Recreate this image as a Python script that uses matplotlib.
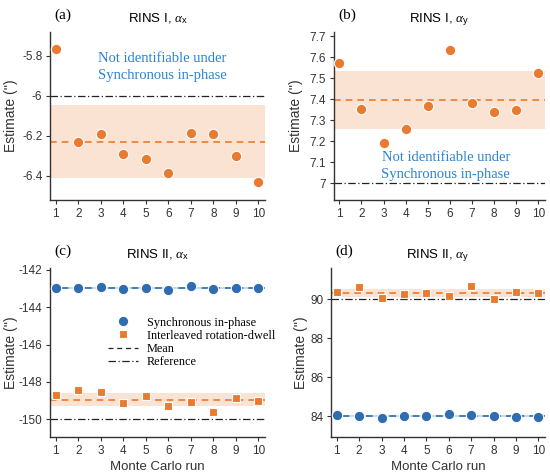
import numpy as np
import matplotlib
matplotlib.use("Agg")
import matplotlib.pyplot as plt
from matplotlib.lines import Line2D

plt.rcParams['font.family'] = ['Liberation Sans', 'DejaVu Sans']
plt.rcParams['mathtext.fontset'] = 'custom'
plt.rcParams['mathtext.rm'] = 'Liberation Sans'
plt.rcParams['mathtext.it'] = 'Liberation Serif:italic'
plt.rcParams['mathtext.sf'] = 'Liberation Sans'

runs = np.arange(1, 11)

# RINS I (only interleaved rotation-dwell is identifiable)
rins1_ax = [-5.767, -6.228, -6.192, -6.288, -6.317, -6.385, -6.187, -6.190, -6.300, -6.430]
rins1_ay = [7.570, 7.352, 7.189, 7.259, 7.368, 7.635, 7.383, 7.337, 7.346, 7.524]
ref1_ax = -6.0
ref1_ay = 7.0

# RINS II
rins2_ax_sync = [-142.96, -142.99, -142.92, -143.00, -142.99, -143.07, -142.89, -143.00, -142.99, -142.99]
rins2_ax_inter = [-148.71, -148.44, -148.53, -149.12, -148.78, -149.30, -149.10, -149.60, -148.84, -149.03]
rins2_ay_sync = [84.08, 84.00, 83.92, 84.03, 84.00, 84.12, 84.05, 84.02, 83.98, 83.97]
rins2_ay_inter = [90.39, 90.64, 90.05, 90.25, 90.34, 90.17, 90.68, 90.00, 90.37, 90.34]
ref2_ax = -150.0
ref2_ay = 90.0

ORANGE = '#e87b30'
ORANGE_BAND = '#fbe3d3'
BLUE = '#2f6db0'
BLUE_BAND = '#c4daef'
TEXT_BLUE = '#2b82d0'
SERIF = ['Liberation Serif', 'DejaVu Serif']
REF_LS = (0, (6, 2, 1, 2))


def draw_series(ax, vals, color, band, marker, ms):
    vals = np.asarray(vals)
    m = vals.mean()
    s = vals.std(ddof=1)
    ax.axhspan(m - s, m + s, color=band, lw=0, zorder=1)
    ax.axhline(m, color=color, ls=(0, (4, 3)), lw=1.2, zorder=2)
    ax.plot(runs, vals, ls='none', marker=marker, ms=ms, color=color,
            mec='white', mew=0.8, zorder=4)


def style(ax, title, label, ylim, yticks, yticklabels, ylab_x):
    ax.set_xlim(0.75, 10.3)
    ax.set_ylim(*ylim)
    ax.set_xticks(runs)
    ax.set_yticks(yticks)
    ax.set_yticklabels(yticklabels)
    for side in ('top', 'right'):
        ax.spines[side].set_visible(False)
    for side in ('left', 'bottom'):
        ax.spines[side].set_color('#333333')
        ax.spines[side].set_linewidth(1.0)
    ax.tick_params(direction='out', length=3, width=0.8, colors='#333333',
                   labelsize=8.5, pad=2.5)
    ax.set_title(title, fontsize=9.5, pad=7)
    ax.set_ylabel("Estimate ('')", fontsize=10, color='#333333')
    ax.yaxis.set_label_coords(ylab_x, 0.5)
    ax.text(0.02, 1.10, label, transform=ax.transAxes, family=SERIF,
            fontsize=11, va='center', ha='left')


fig = plt.figure(figsize=(5.5, 4.76), dpi=100)
ax_a = fig.add_axes([0.091, 0.580, 0.391, 0.353])
ax_b = fig.add_axes([0.607, 0.580, 0.384, 0.353])
ax_c = fig.add_axes([0.091, 0.082, 0.391, 0.355])
ax_d = fig.add_axes([0.602, 0.082, 0.389, 0.355])

# (a)
ax_a.axhline(ref1_ax, color='#222222', ls=REF_LS, lw=0.9, zorder=2)
draw_series(ax_a, rins1_ax, ORANGE, ORANGE_BAND, 'o', 7.5)
style(ax_a, r"RINS I, $\alpha_{\rm x}$", '(a)', (-6.52, -5.68),
      [-6.4, -6.2, -6.0, -5.8], ['-6.4', '-6.2', '-6', '-5.8'], -0.148)
ax_a.text(0.52, 0.79, "Not identifiable under\nSynchronous in-phase",
          transform=ax_a.transAxes, ha='center', va='center', family=SERIF,
          fontsize=10.5, color=TEXT_BLUE, linespacing=1.4)

# (b)
ax_b.axhline(ref1_ay, color='#222222', ls=REF_LS, lw=0.9, zorder=2)
draw_series(ax_b, rins1_ay, ORANGE, ORANGE_BAND, 'o', 7.5)
style(ax_b, r"RINS I, $\alpha_{\rm y}$", '(b)', (6.92, 7.72),
      [7.0, 7.1, 7.2, 7.3, 7.4, 7.5, 7.6, 7.7],
      ['7', '7.1', '7.2', '7.3', '7.4', '7.5', '7.6', '7.7'], -0.145)
ax_b.text(0.53, 0.20, "Not identifiable under\nSynchronous in-phase",
          transform=ax_b.transAxes, ha='center', va='center', family=SERIF,
          fontsize=10.5, color=TEXT_BLUE, linespacing=1.4)

# (c)
ax_c.axhline(ref2_ax, color='#222222', ls=REF_LS, lw=0.9, zorder=2)
draw_series(ax_c, rins2_ax_sync, BLUE, BLUE_BAND, 'o', 7.5)
draw_series(ax_c, rins2_ax_inter, ORANGE, ORANGE_BAND, 's', 6)
style(ax_c, r"RINS II, $\alpha_{\rm x}$", '(c)', (-150.95, -141.9),
      [-150, -148, -146, -144, -142], ['-150', '-148', '-146', '-144', '-142'],
      -0.15)
ax_c.set_xlabel('Monte Carlo run', fontsize=9.5, color='#333333', labelpad=3)

handles = [
    Line2D([], [], ls='none', marker='o', ms=7.5, color=BLUE, mec='white', mew=0.8),
    Line2D([], [], ls='none', marker='s', ms=6, color=ORANGE, mec='white', mew=0.8),
    Line2D([], [], color='#222222', ls=(0, (4, 3)), lw=0.9),
    Line2D([], [], color='#222222', ls=REF_LS, lw=0.9),
]
labels = ['Synchronous in-phase', 'Interleaved rotation-dwell', 'Mean', 'Reference']
ax_c.legend(handles, labels, loc='center left', bbox_to_anchor=(0.24, 0.56),
            frameon=False, prop={'family': SERIF, 'size': 8.8},
            handlelength=2.5, handletextpad=0.7, labelspacing=0.1,
            borderpad=0)

# (d)
ax_d.axhline(ref2_ay, color='#222222', ls=REF_LS, lw=0.9, zorder=2)
draw_series(ax_d, rins2_ay_sync, BLUE, BLUE_BAND, 'o', 7.5)
draw_series(ax_d, rins2_ay_inter, ORANGE, ORANGE_BAND, 's', 6)
style(ax_d, r"RINS II, $\alpha_{\rm y}$", '(d)', (82.95, 91.6),
      [84, 86, 88, 90], ['84', '86', '88', '90'], -0.11)
ax_d.set_xlabel('Monte Carlo run', fontsize=9.5, color='#333333', labelpad=3)

fig.savefig('out.png', dpi=100)
